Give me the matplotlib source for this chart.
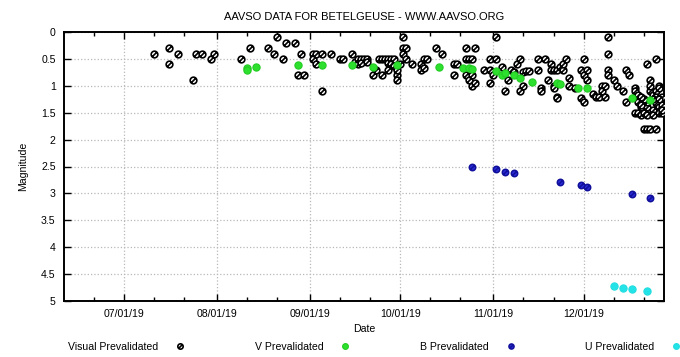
import pandas as pd
import matplotlib.pyplot as plt
import matplotlib.dates as mdates
from matplotlib.path import Path
from matplotlib.ticker import MultipleLocator, FormatStrFormatter

plt.rcParams['font.family'] = ['Liberation Sans', 'DejaVu Sans']
plt.rcParams['font.size'] = 7.6

# Visual prevalidated (date, magnitude)
vis_dates = [
    '07-11', '07-16', '07-16', '07-19', '07-24', '07-25', '07-27', '07-30', '07-31',
    '08-09', '08-12', '08-18', '08-20', '08-21', '08-23', '08-24', '08-27', '08-28', '08-29', '08-30',
    '09-02', '09-02', '09-03', '09-03', '09-05', '09-05', '09-08', '09-11', '09-12', '09-15',
    '09-16', '09-17', '09-17', '09-18', '09-19', '09-18', '09-20', '09-20', '09-22', '09-23',
    '09-24', '09-25', '09-25', '09-26', '09-27', '09-27', '09-27', '09-28', '09-28', '09-29',
    '09-29', '09-30', '09-30', '09-30',
    '10-01', '10-02', '10-02', '10-02', '10-03', '10-03', '10-05', '10-08', '10-08', '10-09',
    '10-09', '10-10', '10-13', '10-15', '10-19', '10-19', '10-20', '10-23', '10-23', '10-23',
    '10-24', '10-24', '10-25', '10-25', '10-25', '10-26', '10-26', '10-29', '10-31', '10-31', '10-31',
    '11-01', '11-02', '11-02', '11-04', '11-05', '11-06', '11-07', '11-08', '11-09', '11-10',
    '11-10', '11-11', '11-11', '11-12', '11-13', '11-16', '11-16', '11-17', '11-17', '11-18',
    '11-19', '11-20', '11-20', '11-21', '11-21', '11-21', '11-22', '11-22', '11-22', '11-23',
    '11-24', '11-24', '11-25', '11-26', '11-26', '11-28', '11-30', '11-30',
    '12-01', '12-01', '12-01', '12-02', '12-02', '12-04', '12-05', '12-06', '12-07', '12-07',
    '12-08', '12-08', '12-09', '12-09', '12-09', '12-09', '12-11', '12-12', '12-14', '12-15',
    '12-15', '12-16', '12-18', '12-18', '12-18', '12-19', '12-19', '12-20', '12-19', '12-20',
    '12-21', '12-21', '12-22', '12-22', '12-22', '12-22', '12-23', '12-23', '12-23', '12-23',
    '12-23', '12-24', '12-24', '12-25', '12-25', '12-25', '12-25', '12-25', '12-26', '12-26',
    '12-26', '12-27', '12-27', '12-27', '12-26', '12-24', '12-21', '12-20', '12-27', '12-20',
    '12-22', '12-24', '12-26',
]
vis_mag = [
    0.4, 0.3, 0.6, 0.4, 0.9, 0.4, 0.4, 0.5, 0.4,
    0.5, 0.3, 0.3, 0.4, 0.1, 0.5, 0.2, 0.2, 0.8, 0.4, 0.8,
    0.4, 0.5, 0.4, 0.6, 0.4, 1.1, 0.4, 0.5, 0.5, 0.4,
    0.55, 0.6, 0.5, 0.5, 0.5, 0.58, 0.5, 0.55, 0.8, 0.7,
    0.5, 0.5, 0.8, 0.5, 0.5, 0.58, 0.7, 0.5, 0.6, 0.64,
    0.5, 0.8, 0.9, 0.7,
    0.6, 0.3, 0.1, 0.4, 0.3, 0.5, 0.6, 0.6, 0.7, 0.5,
    0.67, 0.5, 0.3, 0.4, 0.8, 0.6, 0.6, 0.3, 0.5, 0.8,
    0.5, 0.9, 0.5, 0.8, 1.0, 0.3, 0.95, 0.7, 0.5, 0.95, 0.7,
    0.8, 0.1, 0.5, 0.65, 1.1, 0.9, 0.7, 0.75, 0.6, 0.5,
    1.1, 1.0, 0.75, 0.72, 0.73, 0.5, 0.7, 1.05, 1.1, 0.5,
    0.9, 0.6, 0.7, 0.7, 1.0, 1.05, 0.7, 1.2, 1.23, 0.65,
    0.7, 0.6, 0.5, 1.0, 0.85, 1.05, 0.7, 1.23,
    0.8, 0.5, 1.3, 0.9, 0.7, 1.15, 1.2, 1.2, 1.0, 1.1,
    1.0, 1.2, 0.1, 0.4, 0.7, 0.8, 0.9, 1.0, 1.1, 0.7,
    1.3, 0.8, 1.05, 1.1, 1.5, 1.17, 1.5, 1.55, 1.3, 1.4,
    1.5, 1.8, 0.6, 1.8, 1.4, 1.3, 0.9, 1.1, 1.8, 1.5,
    1.0, 1.45, 1.17, 1.1, 0.5, 1.8, 1.2, 1.32, 1.0, 1.4,
    1.5, 1.2, 1.35, 1.5, 1.05, 1.25, 1.25, 1.2, 1.45, 1.35,
    1.55, 1.55, 1.25,
]

# V prevalidated
v_dates = ['08-11', '08-11', '08-14', '08-28', '09-05', '09-15', '09-22', '09-30', '10-14',
           '10-22', '10-24', '10-25', '11-02', '11-04', '11-05', '11-08', '11-10', '11-14',
           '11-22', '11-23', '11-29', '12-02', '12-17', '12-23']
v_mag = [0.67, 0.7, 0.65, 0.61, 0.62, 0.62, 0.65, 0.62, 0.65,
         0.67, 0.66, 0.68, 0.73, 0.8, 0.76, 0.8, 0.85, 0.93,
         0.95, 0.96, 1.05, 1.05, 1.22, 1.27]

# B prevalidated
b_dates = ['10-25', '11-02', '11-05', '11-08', '11-23', '11-30', '12-02', '12-17', '12-23']
b_mag = [2.5, 2.55, 2.6, 2.62, 2.78, 2.85, 2.89, 3.02, 3.08]

# U prevalidated
u_dates = ['12-11', '12-14', '12-17', '12-22']
u_mag = [4.73, 4.75, 4.77, 4.81]


def to_dt(ds):
    return pd.to_datetime(['2019-' + d for d in ds])


# circle with a slash, like the gnuplot point
slashed = Path.make_compound_path(Path.unit_circle(),
                                  Path([(-0.6, -0.6), (0.6, 0.6)]))

fig = plt.figure(figsize=(6.8, 3.57), dpi=100)
ax = fig.add_axes([64/680, 56/357, 600/680, 269/357])

ax.plot(to_dt(vis_dates), vis_mag, ls='none', marker=slashed, ms=4.8,
        mfc='white', mec='black', mew=1.2, label='Visual Prevalidated', zorder=3)
ax.plot(to_dt(v_dates), v_mag, ls='none', marker='o', ms=5.2,
        mfc='#2ee02e', mec='#22cc22', mew=0.8, label='V Prevalidated', zorder=4)
ax.plot(to_dt(b_dates), b_mag, ls='none', marker=slashed, ms=4.6,
        mfc='#2b2bd8', mec='#10109a', mew=1.1, label='B Prevalidated', zorder=4)
ax.plot(to_dt(u_dates), u_mag, ls='none', marker='o', ms=5.2,
        mfc='#22e4e8', mec='#22dde0', mew=0.8, label='U Prevalidated', zorder=4)

ax.set_xlim(pd.Timestamp('2019-06-11 04:00'), pd.Timestamp('2019-12-27 18:00'))
ax.set_ylim(5, 0)

ax.xaxis.set_major_locator(mdates.MonthLocator(bymonthday=1))
ax.xaxis.set_major_formatter(mdates.DateFormatter('%m/%d/%y'))
ax.xaxis.set_minor_locator(mdates.DayLocator(bymonthday=[11, 21]))
ax.yaxis.set_major_locator(MultipleLocator(0.5))
ax.yaxis.set_major_formatter(FormatStrFormatter('%g'))

ax.tick_params(which='both', direction='in', top=True, right=True, colors='black',
               labelsize=7.6, pad=6)
ax.tick_params(which='major', length=5, width=1)
ax.tick_params(which='minor', length=3, width=1)
ax.grid(True, which='major', color='#b8b8b8', linestyle=':', linewidth=0.9)
for s in ax.spines.values():
    s.set_linewidth(1.4)

ax.set_title('AAVSO DATA FOR BETELGEUSE - WWW.AAVSO.ORG', fontsize=8, pad=9)
ax.set_xlabel('Date', fontsize=7.6, labelpad=3)
ax.set_ylabel('Magnitude', fontsize=7.6, labelpad=9)

fig.legend(loc='center left', bbox_to_anchor=(68/680, 10/357), ncol=4,
           markerfirst=False, frameon=False, borderpad=0, borderaxespad=0,
           handlelength=1.0, handletextpad=1.6, columnspacing=6.55,
           markerscale=0.8, fontsize=7.6)

fig.savefig('out.png', dpi=100)
